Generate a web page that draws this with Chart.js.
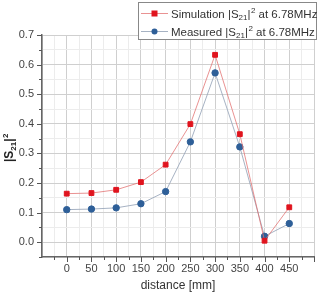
<!DOCTYPE html>
<html><head><meta charset="utf-8">
<script src="https://cdn.jsdelivr.net/npm/chart.js@4.4.1/dist/chart.umd.min.js"></script>
<style>html,body{margin:0;padding:0;background:#fff}#wrap{width:319px;height:293px}</style>
</head><body><div id="wrap"><canvas id="c" width="319" height="293"></canvas></div>
<script>
const distances = [0, 50, 100, 150, 200, 250, 300, 350, 400, 450];
const simulation = [0.164, 0.166, 0.177, 0.203, 0.262, 0.399, 0.633, 0.365, 0.005, 0.118];
const measured = [0.110, 0.112, 0.116, 0.130, 0.171, 0.339, 0.572, 0.322, 0.020, 0.063];
const xTickLabels = [0, 50, 100, 150, 200, 250, 300, 350, 400, 450];
const yTickLabels = [0.0, 0.1, 0.2, 0.3, 0.4, 0.5, 0.6, 0.7];
const seriesNames = ['Simulation', 'Measured'];

const FONT = 'Liberation Sans, Arial, sans-serif';
const RED = '#e0141e', RED_LINE = 'rgba(225,110,110,0.75)';
const BLUE = '#2e5f98', BLUE_LINE = 'rgba(150,165,185,0.85)';

function drawS21(ctx, x, y, size, bold, tail) {
  // draws "|S21|^2" + tail, starting at x, baseline y; returns end x
  const w = bold ? 'bold ' : '';
  ctx.font = w + size + 'px ' + FONT;
  ctx.textBaseline = 'alphabetic';
  ctx.textAlign = 'left';
  ctx.fillText('|S', x, y); x += ctx.measureText('|S').width;
  ctx.font = w + Math.round(size*0.7) + 'px ' + FONT;
  ctx.fillText('21', x, y + size*0.25); x += ctx.measureText('21').width;
  ctx.font = w + size + 'px ' + FONT;
  ctx.fillText('|', x, y); x += ctx.measureText('|').width;
  ctx.font = w + Math.round(size*0.7) + 'px ' + FONT;
  ctx.fillText('2', x + 0.5, y - size*0.4); x += ctx.measureText('2').width + 0.5;
  if (tail) { ctx.font = w + size + 'px ' + FONT; ctx.fillText(tail, x, y); x += ctx.measureText(tail).width; }
  return x;
}

const decor = {
  id: 'decor',
  afterDraw(chart) {
    const ctx = chart.ctx;
    const xs = chart.scales.x, ys = chart.scales.y;
    ctx.save();
    // tick marks
    ctx.strokeStyle = '#555'; ctx.lineWidth = 1;
    ctx.beginPath();
    for (let v = -25; v <= 500; v += 25) {
      const px = Math.round(xs.getPixelForValue(v)) + 0.5;
      const len = (v % 50 === 0) ? 5 : 3;
      ctx.moveTo(px, xs.top); ctx.lineTo(px, xs.top + len);
    }
    for (let i = 0; i <= 15; i++) {
      const v = -0.05 + i * 0.05;
      const py = Math.round(ys.getPixelForValue(v)) + 0.5;
      const major = Math.round(v * 100) % 10 === 0;
      ctx.moveTo(ys.right, py); ctx.lineTo(ys.right - (major ? 5 : 3), py);
    }
    ctx.stroke();
    // y title
    ctx.fillStyle = '#222';
    ctx.translate(13, 147);
    ctx.rotate(-Math.PI / 2);
    ctx.font = 'bold 12px ' + FONT;
    const tw = 30;
    drawS21(ctx, -tw / 2, 0, 12, true);
    ctx.restore();
    // legend
    ctx.save();
    const lx = 138.5, ly = 2.5, lw = 178, lh = 37;
    ctx.fillStyle = '#fff'; ctx.fillRect(lx, ly, lw, lh);
    ctx.strokeStyle = '#888'; ctx.lineWidth = 1; ctx.strokeRect(lx, ly, lw, lh);
    const rows = [
      {name: seriesNames[0], y: 13, line: RED_LINE, col: RED, sq: true},
      {name: seriesNames[1], y: 31, line: BLUE_LINE, col: BLUE, sq: false}
    ];
    rows.forEach(r => {
      ctx.strokeStyle = r.line; ctx.lineWidth = 1;
      ctx.beginPath(); ctx.moveTo(141, r.y + 0.5); ctx.lineTo(168, r.y + 0.5); ctx.stroke();
      ctx.fillStyle = r.col;
      if (r.sq) ctx.fillRect(151.5, r.y - 2.5, 6, 6);
      else { ctx.beginPath(); ctx.arc(154.5, r.y + 0.5, 3, 0, Math.PI * 2); ctx.fill(); }
      ctx.fillStyle = '#333';
      ctx.font = '11.5px ' + FONT;
      ctx.textBaseline = 'alphabetic';
      let x = 171;
      ctx.fillText(r.name + ' ', x, r.y + 4.5);
      x += ctx.measureText(r.name + ' ').width;
      drawS21(ctx, x, r.y + 4.5, 11.5, false, ' at 6.78MHz');
    });
    ctx.restore();
  }
};

new Chart(document.getElementById('c'), {
  type: 'line',
  data: {
    datasets: [
      {label: seriesNames[0], data: distances.map((d, i) => ({x: d, y: simulation[i]})),
       borderColor: RED_LINE, borderWidth: 1, backgroundColor: RED, pointBackgroundColor: RED,
       pointBorderColor: RED, pointStyle: 'rect', pointRadius: 3.4, tension: 0},
      {label: seriesNames[1], data: distances.map((d, i) => ({x: d, y: measured[i]})),
       borderColor: BLUE_LINE, borderWidth: 1, backgroundColor: BLUE, pointBackgroundColor: BLUE,
       pointBorderColor: BLUE, pointStyle: 'circle', pointRadius: 3.2, tension: 0}
    ]
  },
  options: {
    responsive: false, animation: false, devicePixelRatio: 1,
    layout: {padding: {top: 35, right: 2, left: 0, bottom: 0}},
    plugins: {legend: {display: false}, tooltip: {enabled: false}},
    scales: {
      x: {
        type: 'linear', min: -50, max: 500,
        afterFit(s) { s.height = 36; },
        afterBuildTicks(s) { const t = []; for (let v = -50; v <= 500; v += 25) t.push({value: v}); s.ticks = t; },
        ticks: {
          autoSkip: false, maxRotation: 0, padding: 5, color: '#444',
          font: {family: FONT, size: 11},
          callback: v => xTickLabels.includes(v) ? String(v) : ''
        },
        grid: {drawTicks: false, lineWidth: 1,
          color: c => (c.tick && c.tick.value % 50 === 0) ? '#cfcfcf' : '#ececec'},
        border: {display: true, color: '#666', width: 1.5},
        title: {display: true, text: 'distance [mm]', color: '#333',
          font: {family: FONT, size: 12}, padding: {top: 0, bottom: 0}}
      },
      y: {
        min: -0.05, max: 0.7,
        afterFit(s) { s.width = 42; },
        afterBuildTicks(s) { const t = []; for (let i = 0; i <= 15; i++) t.push({value: Math.round((-0.05 + i * 0.05) * 100) / 100}); s.ticks = t; },
        ticks: {
          autoSkip: false, padding: 8, color: '#444',
          font: {family: FONT, size: 11},
          callback: v => { const r = Math.round(v * 10) / 10; return (Math.abs(v - r) < 1e-6 && yTickLabels.includes(r)) ? r.toFixed(1) : ''; }
        },
        grid: {drawTicks: false, lineWidth: 1,
          color: c => (c.tick && Math.round(c.tick.value * 100) % 10 === 0) ? '#cfcfcf' : '#ececec'},
        border: {display: true, color: '#666', width: 1.5}
      }
    }
  },
  plugins: [decor]
});
</script></body></html>
